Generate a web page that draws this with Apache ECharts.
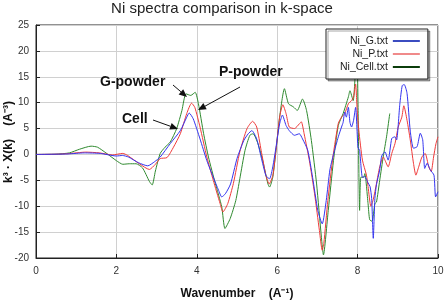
<!DOCTYPE html>
<html>
<head>
<meta charset="utf-8">
<script src="https://cdn.jsdelivr.net/npm/echarts@6/dist/echarts.min.js"></script>
<style>
  html, body { margin: 0; padding: 0; background: #fff; }
  #chart { width: 444px; height: 300px; }
</style>
</head>
<body>
<div id="chart"></div>
<script>
// values (k in 1/A, k^3*chi(k))
const kG = [0, 0.5, 0.8, 1.2, 1.6, 2.0, 2.15, 2.3, 2.55, 2.78, 2.95, 3.09, 3.34, 3.59, 3.75, 3.81, 3.91, 4.08, 4.25, 4.41, 4.54, 4.62, 4.71, 4.84, 5.0, 5.17, 5.28, 5.37, 5.49, 5.6, 5.72, 5.81, 5.89, 5.97, 6.06, 6.13, 6.22, 6.3, 6.43, 6.55, 6.63, 6.76, 6.88, 7.01, 7.12, 7.22, 7.31, 7.4, 7.52, 7.6, 7.64, 7.68, 7.72, 7.77, 7.81, 7.85, 7.9, 7.95, 8.01, 8.05, 8.12, 8.18, 8.26, 8.31, 8.35, 8.39, 8.43, 8.47, 8.55, 8.6, 8.68, 8.76, 8.85, 8.93, 8.97, 9.05, 9.11, 9.16, 9.23, 9.31, 9.39, 9.48, 9.56, 9.62, 9.67, 9.73, 9.81, 9.9, 9.94, 10.0];
const niG = [0, 0.05, 0.1, 0.3, 0.2, -0.3, -0.2, -0.5, -1.6, -2.2, -1.4, -0.5, 2.1, 4.6, 7.2, 8.0, 6.9, 3.0, -1.2, -4.4, -6.9, -8.2, -7.6, -5.7, -0.8, 2.7, 4.0, 4.6, 3.0, -0.5, -4.1, -4.7, -2.4, 1.4, 5.9, 7.6, 5.6, 4.6, 3.7, 4.0, 3.0, 0.8, -4.4, -10.8, -13.4, -8.9, -3.0, 0, 3.4, 5.3, 6.2, 8.2, 7.2, 9.1, 6.2, 5.3, 6.6, 9.1, 1.3, 0.8, -4.4, -4.3, -5.5, -6.2, -8.5, -16.2, -8.5, -5.8, -3.0, -0.3, 0.5, -1.1, 3.1, 3.4, 2.8, 9.7, 13.3, 13.5, 11.8, 4.5, 1.2, 1.5, 4.1, 2.8, -2.7, -1.7, -3.0, -4.0, -8.2, -7.2];

const kP = [0, 0.5, 0.8, 1.24, 1.58, 1.9, 2.16, 2.28, 2.57, 2.82, 2.97, 3.09, 3.26, 3.42, 3.59, 3.75, 3.87, 3.95, 4.08, 4.25, 4.41, 4.58, 4.65, 4.77, 4.91, 5.07, 5.25, 5.39, 5.49, 5.6, 5.72, 5.8, 5.89, 5.97, 6.06, 6.14, 6.22, 6.3, 6.43, 6.55, 6.6, 6.67, 6.8, 6.93, 7.05, 7.12, 7.16, 7.26, 7.39, 7.52, 7.6, 7.68, 7.77, 7.85, 7.9, 7.95, 7.99, 8.03, 8.12, 8.22, 8.26, 8.33, 8.39, 8.47, 8.55, 8.64, 8.68, 8.76, 8.85, 8.93, 9.01, 9.1, 9.15, 9.23, 9.31, 9.39, 9.45, 9.52, 9.6, 9.68, 9.77, 9.83, 9.89, 9.95, 10.0];
const niP = [0, 0.05, 0.15, 0.45, 0.3, -0.1, 0.2, -0.2, -1.8, -2.9, -1.9, -0.8, -0.6, 1.4, 4.0, 7.9, 9.9, 9.1, 5.3, -0.5, -5.0, -9.5, -11.1, -9.5, -5.6, 0.5, 5.0, 6.4, 5.3, 0.8, -4.1, -5.7, -4.1, 0.8, 7.2, 9.6, 7.9, 5.3, 5.0, 5.9, 6.3, 4.0, -1.2, -7.6, -14.7, -18.5, -17.2, -8.9, -0.3, 6.0, 7.2, 7.9, 9.8, 10.4, 11.1, 13.6, 8.5, 4.7, -1.1, -4.0, -6.2, -10, -8.7, -5.6, -2.4, -0.5, -1.1, -2.4, 0.2, 2.1, 5.3, 7.2, 9.4, 6.6, 2.8, -1.7, -4.0, -2.4, -0.5, 0.2, -2.4, -3.3, -0.5, 2.1, 3.4];

const kCell = [0, 0.5, 0.83, 1.08, 1.37, 1.53, 1.74, 2.0, 2.16, 2.32, 2.49, 2.65, 2.82, 2.89, 2.97, 3.09, 3.21, 3.34, 3.5, 3.63, 3.73, 3.85, 3.96, 4.04, 4.17, 4.29, 4.46, 4.62, 4.7, 4.83, 4.97, 5.07, 5.2, 5.32, 5.4, 5.52, 5.64, 5.77, 5.81, 5.89, 5.97, 6.06, 6.18, 6.28, 6.4, 6.5, 6.63, 6.73, 6.85, 6.98, 7.1, 7.15, 7.27, 7.4, 7.52, 7.64, 7.77, 7.81, 7.89, 7.93, 7.98, 8.01, 8.05, 8.08, 8.15, 8.18, 8.26, 8.3, 8.36, 8.43, 8.47, 8.55, 8.64, 8.72, 8.8];
const niCell = [0, 0.05, 0.3, 1.0, 1.6, 1.4, 0.3, -1.2, -1.9, -1.8, -1.8, -2.6, -5.2, -5.9, -3.2, 0.2, 1.4, 2.4, 5.0, 8.5, 11.7, 11.4, 12.0, 9.8, 4.0, -0.5, -5.6, -10.1, -14.3, -12.4, -8.9, -4.7, 0.8, 3.7, 4.0, 2.1, -1.2, -5.7, -6.3, -4.4, 0.8, 7.2, 12.7, 9.8, 9.2, 8.5, 10.7, 8.5, 2.7, -5.7, -16, -19.4, -10.8, -1.2, 5.6, 7.9, 11.1, 12.3, 10.4, 14, 21.4, 10, -10.8, -4.4, -4.4, -3.7, -9.5, -12.6, -12.9, -9.5, -9.2, -5.0, -0.3, 3.4, 7.9];

const seriesNames = ['Ni_G.txt', 'Ni_P.txt', 'Ni_Cell.txt'];
const lineColors = ['#3434f0', '#f03a3a', '#2f8a2f'];
const legendColors = ['#3b4cc0', '#f08a8a', '#0b3d0b'];

const FONT = '"Liberation Sans", Arial, sans-serif';

function zip(xs, ys) {
    return xs.map((x, i) => [x, ys[i]]);
}

// arrow = line + filled head, pixel coords of the annotation
function arrow(x1, y1, x2, y2) {
    const a = Math.atan2(y2 - y1, x2 - x1);
    const len = 8, half = 3.5;
    const bx = x2 - len * Math.cos(a), by = y2 - len * Math.sin(a);
    const nx = -Math.sin(a) * half, ny = Math.cos(a) * half;
    return [
        { type: 'line', shape: { x1: x1, y1: y1, x2: bx, y2: by }, style: { stroke: '#111', lineWidth: 1 }, z: 100 },
        { type: 'polygon', shape: { points: [[x2, y2], [bx + nx, by + ny], [bx - nx, by - ny]] }, style: { fill: '#111' }, z: 100 }
    ];
}

function label(text, x, y) {
    return { type: 'text', x: x, y: y, z: 100,
        style: { text: text, font: 'bold 14px ' + FONT, fill: '#111', verticalAlign: 'middle' } };
}

const chart = echarts.init(document.getElementById('chart'));

const dataSets = [zip(kG, niG), zip(kP, niP), zip(kCell, niCell)];

chart.setOption({
    animation: false,
    backgroundColor: '#fff',
    title: {
        text: 'Ni spectra comparison in k-space',
        left: 'center', top: 1, padding: 0,
        textStyle: { fontFamily: FONT, fontSize: 15, fontWeight: 'normal', color: '#222' }
    },
    legend: {
        orient: 'vertical',
        left: 326, top: 29,
        align: 'right',
        padding: [6, 8, 6, 14],
        itemGap: 1,
        itemWidth: 27, itemHeight: 2,
        icon: 'rect',
        backgroundColor: '#fff',
        borderColor: '#222', borderWidth: 1,
        shadowColor: 'rgba(0,0,0,0.35)', shadowOffsetX: 2, shadowOffsetY: 2, shadowBlur: 0,
        textStyle: { fontFamily: FONT, fontSize: 10.5, color: '#222', lineHeight: 12 },
        data: seriesNames.map((n, i) => ({ name: n, itemStyle: { color: legendColors[i] } }))
    },
    grid: {
        left: 36, right: 6, top: 25, bottom: 42,
        containLabel: false, outerBoundsMode: 'none',
        show: true, borderColor: '#222', borderWidth: 1
    },
    xAxis: {
        type: 'value', min: 0, max: 10, interval: 2,
        name: 'Wavenumber    (A⁻¹)', nameLocation: 'middle', nameGap: 30, nameMoveOverlap: false,
        nameTextStyle: { fontFamily: FONT, fontSize: 12, fontWeight: 'bold', color: '#111' },
        axisLine: { show: true, onZero: false, lineStyle: { color: '#222' } },
        axisTick: { show: true, inside: true, length: 4, lineStyle: { color: '#222' } },
        axisLabel: { fontFamily: FONT, fontSize: 10, color: '#333', margin: 8 },
        splitLine: { show: true, lineStyle: { color: '#d0d0d0' } }
    },
    yAxis: {
        type: 'value', min: -20, max: 25, interval: 5,
        axisLine: { show: true, onZero: false, lineStyle: { color: '#222' } },
        axisTick: { show: true, inside: true, length: 4, lineStyle: { color: '#222' } },
        axisLabel: { fontFamily: FONT, fontSize: 10, color: '#333', margin: 7 },
        splitLine: { show: true, lineStyle: { color: '#d0d0d0' } }
    },
    series: seriesNames.map((n, i) => ({
        name: n,
        type: 'line',
        data: dataSets[i],
        showSymbol: false,
        smooth: 0.2,
        clip: true,
        lineStyle: { width: 1, color: lineColors[i] },
        itemStyle: { color: lineColors[i] },
        z: 3 - i
    })),
    graphic: [
        // y axis title, drawn by hand so it sits close to the tick labels
        { type: 'text', x: 9, y: 142, rotation: Math.PI / 2, z: 100,
          style: { text: 'k³ · X(k)    (A⁻³)', font: 'bold 12px ' + FONT, fill: '#111', align: 'center', verticalAlign: 'middle' } },
        label('G-powder', 100, 82),
        label('P-powder', 219, 72),
        label('Cell', 122, 119),
        ...arrow(173, 85, 187, 97),
        ...arrow(240, 87, 198, 110),
        ...arrow(153, 120, 178, 129)
    ]
});

window.addEventListener('resize', function() {
    chart.resize();
});
</script>
</body>
</html>
